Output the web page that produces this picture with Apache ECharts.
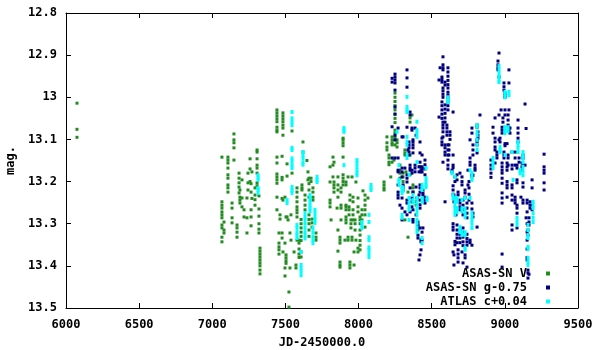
<!DOCTYPE html>
<html>
<head>
<meta charset="utf-8">
<script src="https://cdn.jsdelivr.net/npm/echarts@6/dist/echarts.min.js"></script>
<style>
  html, body { margin: 0; padding: 0; background: #fff; }
  #main { width: 600px; height: 350px; }
</style>
</head>
<body>
<div id="main"></div>
<script>
// each entry: [JD-2450000, [mags observed around that date]]
var seriesNames = ['ASAS-SN V', 'ASAS-SN g-0.75', 'ATLAS c+0.04'];
var seriesColors = ['#228b22', '#000080', '#00ffff'];

var asasV = [
    [6075, [13.014, 13.076, 13.095]],
    [7066, [13.142, 13.248, 13.256, 13.263, 13.272, 13.279, 13.286, 13.303, 13.31, 13.332, 13.343]],
    [7080, [13.296, 13.315, 13.322]],
    [7107, [13.142, 13.149, 13.156, 13.168, 13.184, 13.192, 13.208, 13.215, 13.225]],
    [7135, [13.251, 13.263, 13.286, 13.298]],
    [7148, [13.087, 13.101, 13.108, 13.12, 13.149]],
    [7169, [13.303, 13.31, 13.32, 13.332]],
    [7183, [13.18, 13.192, 13.203, 13.213, 13.227]],
    [7189, [13.22, 13.237, 13.244, 13.251]],
    [7203, [13.196, 13.26, 13.239]],
    [7217, [13.267, 13.284]],
    [7237, [13.239, 13.286, 13.322]],
    [7244, [13.18, 13.203, 13.22]],
    [7258, [13.146, 13.17, 13.2]],
    [7265, [13.205, 13.225, 13.267, 13.284, 13.305]],
    [7271, [13.24, 13.177]],
    [7292, [13.215, 13.232, 13.243, 13.256]],
    [7306, [13.125, 13.13, 13.146, 13.161, 13.168, 13.18, 13.203, 13.21]],
    [7319, [13.234, 13.265, 13.282, 13.30, 13.313, 13.322]],
    [7326, [13.358, 13.365, 13.372, 13.379, 13.386, 13.393, 13.40, 13.41, 13.419]],
    [7442, [13.03, 13.037, 13.044, 13.051, 13.058, 13.071, 13.078, 13.082, 13.142, 13.156, 13.182, 13.189, 13.196, 13.204, 13.237, 13.267]],
    [7456, [13.322, 13.346, 13.355, 13.362, 13.372]],
    [7463, [13.279, 13.289]],
    [7477, [13.14, 13.19, 13.196, 13.24, 13.322, 13.334]],
    [7483, [13.037, 13.044, 13.051, 13.058, 13.066, 13.073, 13.09, 13.244, 13.367]],
    [7497, [13.237, 13.346, 13.405, 13.424]],
    [7504, [13.284, 13.374, 13.381, 13.388, 13.394]],
    [7511, [13.158, 13.187, 13.284]],
    [7518, [13.291]],
    [7524, [13.462, 13.498]],
    [7531, [13.322, 13.405]],
    [7538, [13.279, 13.339]],
    [7545, [13.08, 13.18]],
    [7559, [13.367]],
    [7572, [13.405, 13.398]],
    [7579, [13.215, 13.225, 13.237, 13.248, 13.26, 13.267, 13.274, 13.284, 13.339]],
    [7593, [13.339, 13.346, 13.36, 13.372, 13.38]],
    [7607, [13.29, 13.30, 13.31, 13.32, 13.33, 13.34, 13.367, 13.379]],
    [7613, [13.208, 13.215, 13.22]],
    [7620, [13.106, 13.13]],
    [7634, [13.232, 13.244, 13.256, 13.267]],
    [7647, [13.15]],
    [7654, [13.177, 13.196]],
    [7661, [13.192, 13.205, 13.22, 13.237, 13.279, 13.29, 13.30, 13.315, 13.33]],
    [7675, [13.192, 13.2]],
    [7682, [13.289, 13.298, 13.308]],
    [7688, [13.215, 13.225, 13.237, 13.244]],
    [7709, [13.322, 13.332, 13.339]],
    [7805, [13.165, 13.201, 13.244, 13.251, 13.26]],
    [7812, [13.291]],
    [7825, [13.142, 13.161, 13.189]],
    [7832, [13.154, 13.201, 13.208, 13.215, 13.225]],
    [7853, [13.263]],
    [7859, [13.189, 13.208, 13.22, 13.237, 13.315, 13.365]],
    [7873, [13.332, 13.339, 13.346, 13.391, 13.398, 13.403]],
    [7880, [13.215, 13.225, 13.256, 13.263, 13.291]],
    [7894, [13.097, 13.101, 13.108, 13.115, 13.142, 13.184, 13.192, 13.2, 13.208]],
    [7907, [13.339]],
    [7914, [13.201, 13.208, 13.256, 13.26, 13.267, 13.284, 13.291, 13.298]],
    [7928, [13.189, 13.332, 13.339]],
    [7935, [13.26, 13.267, 13.279]],
    [7941, [13.232, 13.244, 13.391, 13.398, 13.405]],
    [7948, [13.291, 13.30, 13.31]],
    [7955, [13.189, 13.332, 13.339]],
    [7962, [13.237, 13.248, 13.267, 13.279, 13.291]],
    [7969, [13.367, 13.398]],
    [7976, [13.291, 13.30, 13.315]],
    [7982, [13.201, 13.339]],
    [7996, [13.239, 13.26, 13.272, 13.358, 13.367]],
    [8010, [13.284, 13.291, 13.30, 13.315, 13.327, 13.34, 13.351, 13.362]],
    [8023, [13.267, 13.279, 13.291]],
    [8030, [13.222]],
    [8044, [13.232, 13.244, 13.256, 13.267, 13.279, 13.308]],
    [8064, [13.239]],
    [8174, [13.201, 13.208, 13.215, 13.22]],
    [8194, [13.094, 13.108, 13.118, 13.125]],
    [8208, [13.137, 13.144, 13.154, 13.16]],
    [8220, [13.189]],
    [8229, [13.094, 13.101, 13.108, 13.113, 13.154]],
    [8242, [13.149]],
    [8249, [12.99, 13.0, 13.01, 13.02, 13.03, 13.04, 13.05, 13.06, 13.078, 13.085, 13.094, 13.101, 13.113]],
    [8263, [13.101, 13.108, 13.118]],
    [8283, [13.161, 13.173, 13.18, 13.192]],
    [8304, [13.18, 13.189, 13.2]],
    [8317, [13.125, 13.132, 13.137, 13.291]],
    [8324, [13.177]],
    [8338, [13.225, 13.332]],
    [8352, [13.049, 13.059, 13.137, 13.184]],
    [8365, [13.042]],
    [8372, [13.208, 13.215, 13.225]],
    [8393, [13.248, 13.256]],
    [8406, [13.303, 13.315]]
];

var asasG = [
    [8229, [12.955, 12.964, 13.07, 13.144]],
    [8249, [12.945, 12.952, 12.959, 12.966, 12.983, 13.023, 13.04, 13.09, 13.101, 13.144]],
    [8270, [13.073, 13.144, 13.173, 13.177, 13.208, 13.225, 13.232, 13.239]],
    [8283, [13.256]],
    [8297, [13.094, 13.168, 13.177, 13.189, 13.239, 13.263, 13.291]],
    [8304, [13.094, 13.208, 13.213, 13.22]],
    [8317, [13.168, 13.272]],
    [8331, [12.935, 12.954, 12.976, 13.071, 13.137, 13.184, 13.192, 13.201, 13.244, 13.251, 13.279]],
    [8338, [13.125]],
    [8345, [13.106, 13.113, 13.12, 13.13, 13.137]],
    [8352, [13.035, 13.042, 13.161, 13.168, 13.173, 13.215, 13.272]],
    [8365, [13.073, 13.078, 13.173, 13.18, 13.239, 13.248, 13.26]],
    [8372, [13.101, 13.106, 13.113, 13.12, 13.132, 13.225, 13.267, 13.29, 13.296]],
    [8386, [13.073, 13.161, 13.168, 13.177]],
    [8393, [13.09, 13.213, 13.279]],
    [8399, [13.239]],
    [8406, [13.296, 13.303, 13.31, 13.327, 13.334]],
    [8413, [13.165, 13.177, 13.232, 13.386]],
    [8420, [13.106, 13.132, 13.154, 13.165, 13.208, 13.215, 13.225, 13.244, 13.255, 13.263, 13.31, 13.374]],
    [8427, [13.173, 13.177, 13.339, 13.343, 13.362]],
    [8434, [13.137, 13.165, 13.17, 13.177, 13.32, 13.339]],
    [8440, [13.22, 13.227, 13.232, 13.31]],
    [8454, [13.149, 13.16, 13.17, 13.184, 13.237, 13.244, 13.251]],
    [8550, [12.959, 13.047]],
    [8557, [12.93]],
    [8570, [12.952, 12.958, 12.964, 13.011, 13.02, 13.03, 13.04, 13.05, 13.097, 13.106, 13.113]],
    [8577, [12.904, 12.923, 12.93, 12.935, 12.978, 12.985, 12.993, 13.0, 13.059, 13.066, 13.073, 13.082, 13.094, 13.154]],
    [8591, [12.964, 12.971, 13.018, 13.028, 13.038, 13.049, 13.059, 13.113, 13.12, 13.13, 13.137, 13.248]],
    [8604, [13.066, 13.073, 13.082, 13.09]],
    [8611, [12.93, 12.94, 12.95, 12.96, 12.97, 12.978, 12.988, 12.995, 13.002, 13.011, 13.02, 13.03, 13.113, 13.125, 13.137, 13.149, 13.161, 13.17]],
    [8618, [13.113, 13.125, 13.137]],
    [8625, [13.082, 13.09, 13.1]],
    [8639, [13.173, 13.178]],
    [8646, [13.035, 13.137, 13.161, 13.167, 13.21, 13.22, 13.23, 13.3, 13.308, 13.315, 13.367]],
    [8652, [13.232, 13.24, 13.248, 13.374, 13.398]],
    [8659, [13.189, 13.2, 13.342, 13.35]],
    [8666, [13.263, 13.272, 13.279]],
    [8673, [13.184, 13.196, 13.303, 13.315, 13.325, 13.334, 13.345]],
    [8680, [13.225, 13.232, 13.362, 13.372, 13.381, 13.391]],
    [8693, [13.18, 13.244, 13.251, 13.26, 13.267, 13.315, 13.325, 13.334, 13.345]],
    [8707, [13.189, 13.2, 13.208, 13.367]],
    [8714, [13.244, 13.256, 13.267, 13.279, 13.31, 13.32, 13.332, 13.343, 13.352, 13.393]],
    [8728, [13.22, 13.227, 13.237, 13.374, 13.381]],
    [8741, [13.251, 13.263, 13.275, 13.286, 13.325, 13.335, 13.343, 13.351, 13.403]],
    [8748, [13.208, 13.173]],
    [8755, [13.2, 13.215, 13.23, 13.244]],
    [8762, [13.101, 13.144, 13.154, 13.161, 13.339, 13.345]],
    [8775, [13.073, 13.085, 13.184, 13.187, 13.251, 13.265, 13.351]],
    [8782, [13.113, 13.125, 13.137, 13.185, 13.275, 13.284]],
    [8796, [13.161, 13.168, 13.173]],
    [8810, [13.066, 13.071, 13.101, 13.106, 13.113, 13.132, 13.308]],
    [8816, [13.082, 13.09, 13.097]],
    [8830, [13.042]],
    [8905, [13.149, 13.161, 13.17, 13.18, 13.19]],
    [8919, [13.071, 13.085]],
    [8933, [13.049, 13.097, 13.106, 13.118, 13.125, 13.156]],
    [8946, [13.13, 13.137, 13.144]],
    [8953, [12.914, 12.923, 12.93, 12.935]],
    [8960, [12.895, 12.952, 13.042, 13.101]],
    [8967, [13.097, 13.106]],
    [8974, [13.03]],
    [8981, [13.071, 13.078, 13.085, 13.156, 13.165, 13.173, 13.18, 13.192, 13.204, 13.227, 13.239, 13.251, 13.372, 13.403]],
    [8987, [13.049, 13.059]],
    [8994, [12.966, 12.975, 12.983, 13.13, 13.137, 13.144]],
    [9001, [12.99, 12.995, 13.0, 13.03, 13.042, 13.11, 13.115]],
    [9015, [13.11, 13.156, 13.165, 13.173, 13.2, 13.208, 13.215, 13.237]],
    [9022, [13.042, 13.054, 13.066, 13.137, 13.144, 13.161]],
    [9028, [12.935, 12.966, 13.03, 13.073, 13.08]],
    [9035, [13.073, 13.085]],
    [9049, [13.13, 13.161, 13.17, 13.208, 13.215, 13.232, 13.244, 13.303, 13.315]],
    [9070, [13.13, 13.144, 13.161, 13.237, 13.244, 13.251]],
    [9083, [13.161, 13.168, 13.196, 13.203, 13.256, 13.263, 13.275, 13.31]],
    [9090, [13.054, 13.073, 13.085, 13.097, 13.106]],
    [9097, [13.144, 13.154]],
    [9110, [13.237]],
    [9117, [13.156, 13.165, 13.173]],
    [9124, [13.137, 13.144, 13.16, 13.203, 13.213, 13.244, 13.251]],
    [9138, [13.016, 13.161]],
    [9145, [13.074, 13.286]],
    [9152, [13.244, 13.251, 13.272, 13.3, 13.32, 13.339, 13.36, 13.38, 13.386]],
    [9158, [13.303, 13.315, 13.327, 13.41, 13.417, 13.429]],
    [9165, [13.286, 13.296, 13.303, 13.42]],
    [9172, [13.248, 13.256, 13.263]],
    [9186, [13.196, 13.215, 13.256, 13.267]],
    [9268, [13.135, 13.165, 13.173, 13.18, 13.203, 13.22]]
];

var atlasC = [
    [7313, [13.185, 13.19, 13.196, 13.215, 13.22, 13.227]],
    [7511, [13.244, 13.251]],
    [7545, [13.035, 13.05, 13.058, 13.066, 13.12, 13.125, 13.145, 13.152, 13.161, 13.168, 13.213, 13.22, 13.227]],
    [7579, [13.303, 13.31, 13.32, 13.327, 13.334]],
    [7607, [13.367, 13.398, 13.405, 13.413, 13.422]],
    [7620, [13.13, 13.137, 13.144, 13.154, 13.16]],
    [7634, [13.275, 13.284, 13.291, 13.30, 13.31, 13.32, 13.327, 13.335]],
    [7668, [13.232, 13.239, 13.248, 13.256, 13.263, 13.27]],
    [7688, [13.31, 13.32, 13.33, 13.339, 13.346]],
    [7702, [13.267, 13.275, 13.284, 13.291, 13.298]],
    [7716, [13.189, 13.196, 13.201]],
    [7900, [13.073, 13.078, 13.082, 13.161]],
    [7989, [13.149, 13.156, 13.165, 13.173, 13.18, 13.185]],
    [8023, [13.296, 13.303, 13.31]],
    [8071, [13.279, 13.296, 13.332, 13.339, 13.356, 13.362, 13.37, 13.379]],
    [8085, [13.208, 13.215, 13.22]],
    [8263, [13.082]],
    [8276, [13.161, 13.196, 13.2, 13.208]],
    [8297, [13.213, 13.22, 13.227, 13.279, 13.286]],
    [8304, [13.215, 13.222]],
    [8331, [12.999, 13.023, 13.03, 13.035, 13.094, 13.106, 13.113, 13.137, 13.144]],
    [8345, [13.184, 13.239, 13.25, 13.26, 13.267, 13.291]],
    [8372, [13.232, 13.244, 13.25]],
    [8399, [13.058, 13.078, 13.085, 13.094, 13.154, 13.239, 13.25, 13.26, 13.27, 13.279, 13.291, 13.3, 13.31, 13.32]],
    [8434, [13.208, 13.215, 13.22, 13.239, 13.248, 13.334, 13.346]],
    [8461, [13.168, 13.192, 13.2, 13.208, 13.213]],
    [8468, [13.239, 13.244]],
    [8611, [13.0, 13.006, 13.011]],
    [8639, [13.178, 13.18]],
    [8646, [13.232, 13.239]],
    [8659, [13.189, 13.239, 13.248, 13.256, 13.263, 13.272, 13.279]],
    [8673, [13.239, 13.248, 13.263, 13.272]],
    [8693, [13.308, 13.315, 13.32]],
    [8707, [13.244, 13.263, 13.27, 13.32, 13.327]],
    [8728, [13.239, 13.265, 13.275, 13.284, 13.32, 13.327, 13.357, 13.362]],
    [8762, [13.173, 13.239]],
    [8775, [13.18, 13.189, 13.196, 13.275, 13.284, 13.291, 13.3, 13.31]],
    [8810, [13.066, 13.07, 13.082, 13.09, 13.101, 13.113, 13.125]],
    [8919, [13.144, 13.152, 13.16, 13.168]],
    [8960, [12.926, 12.935, 12.944, 12.952, 12.96, 12.964]],
    [8967, [13.118, 13.125, 13.13]],
    [9001, [12.987, 12.993, 13.0, 13.071, 13.078, 13.085, 13.137]],
    [9022, [13.071, 13.08]],
    [9028, [12.987, 12.995]],
    [9049, [13.13]],
    [9056, [13.196]],
    [9083, [13.286, 13.295, 13.303]],
    [9090, [13.106, 13.113, 13.12, 13.13]],
    [9104, [13.173, 13.18]],
    [9124, [13.13, 13.137, 13.144, 13.154, 13.165, 13.175, 13.185]],
    [9158, [13.303, 13.315, 13.327, 13.334, 13.355, 13.36, 13.381, 13.39, 13.398]],
    [9193, [13.248, 13.256, 13.263, 13.275, 13.286, 13.296]]
];

function toPoints(cols) {
    var out = [];
    cols.forEach(function (c) {
        c[1].forEach(function (m) {
            out.push([c[0], m]);
        });
    });
    return out;
}

var myChart = echarts.init(document.getElementById('main'));

var font = 'DejaVu Sans Mono';
var axisText = { fontFamily: font, fontSize: 12, fontWeight: 'bold', color: '#000' };
var line = { lineStyle: { color: '#000', width: 1 } };
var ticks = { inside: true, length: 5, lineStyle: { color: '#000' } };

var option = {
    animation: false,
    backgroundColor: '#fff',
    grid: { left: 66, right: 22, top: 13, bottom: 42, outerBoundsMode: 'none', containLabel: false },
    legend: {
        orient: 'vertical',
        right: 45,
        top: 262,
        align: 'right',
        itemGap: 1,
        itemWidth: 4,
        itemHeight: 4,
        icon: 'rect',
        textStyle: { fontFamily: font, fontSize: 12, fontWeight: 'bold', color: '#000', padding: [0, 14, 0, 0], lineHeight: 13 },
        data: seriesNames
    },
    xAxis: [{
        type: 'value', min: 6000, max: 9500, interval: 500,
        name: 'JD-2450000.0', nameLocation: 'middle', nameGap: 29,
        nameTextStyle: axisText,
        axisLine: line,
        axisTick: ticks,
        axisLabel: Object.assign({ margin: 11, formatter: function (v) { return String(v); } }, axisText),
        splitLine: { show: false }
    }, {
        type: 'value', position: 'top', min: 6000, max: 9500, interval: 500,
        axisLine: line,
        axisTick: ticks,
        axisLabel: { show: false },
        splitLine: { show: false }
    }],
    yAxis: [{
        type: 'value', inverse: true, min: 12.8, max: 13.5, interval: 0.1,
        name: 'mag.', nameLocation: 'middle', nameGap: 42, nameRotate: 90,
        nameTextStyle: axisText,
        axisLine: line,
        axisTick: ticks,
        axisLabel: Object.assign({ margin: 9 }, axisText),
        splitLine: { show: false }
    }, {
        type: 'value', position: 'right', inverse: true, min: 12.8, max: 13.5, interval: 0.1,
        axisLine: line,
        axisTick: ticks,
        axisLabel: { show: false },
        splitLine: { show: false }
    }],
    series: [asasV, asasG, atlasC].map(function (cols, i) {
        return {
            name: seriesNames[i],
            type: 'scatter',
            symbol: 'rect',
            symbolSize: i === 2 ? [3, 4] : 3,
            itemStyle: { color: seriesColors[i], opacity: 1 },
            data: toPoints(cols)
        };
    })
};

myChart.setOption(option);
</script>
</body>
</html>
